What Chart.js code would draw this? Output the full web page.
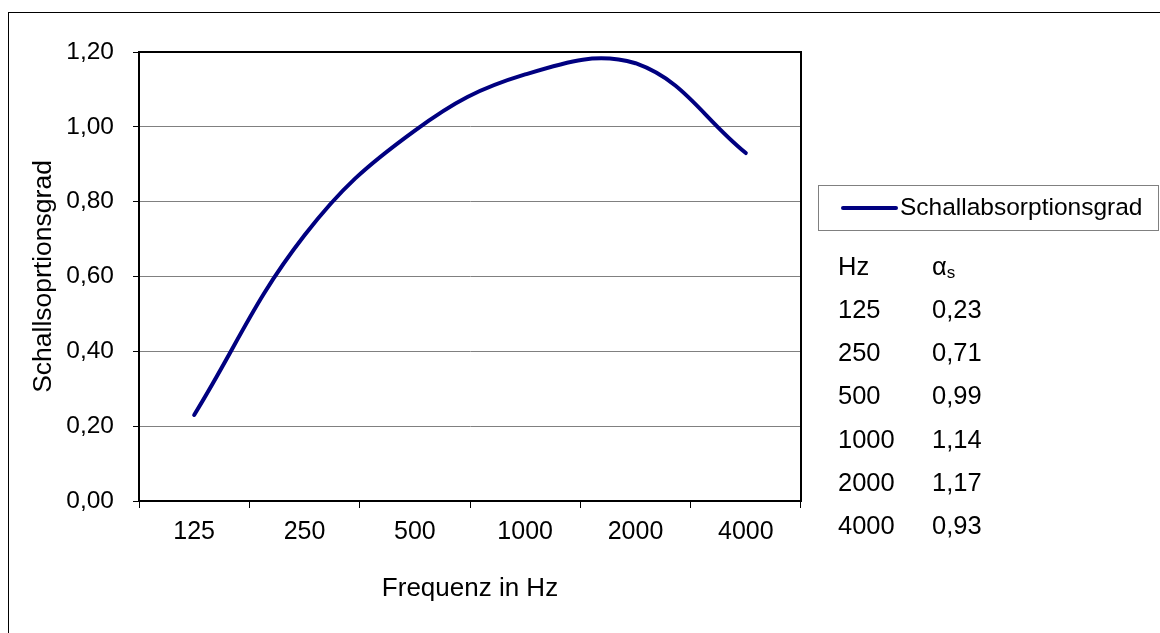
<!DOCTYPE html>
<html>
<head>
<meta charset="utf-8">
<script src="https://cdn.jsdelivr.net/npm/chart.js@4/dist/chart.umd.min.js"></script>
<style>
  html, body { margin: 0; padding: 0; background: #fff; }
  #wrap { position: relative; width: 1160px; height: 633px; }
</style>
</head>
<body>
<div id="wrap"><canvas id="c" width="1160" height="633"></canvas></div>
<script>
// ---- data ----
const categories = ['125', '250', '500', '1000', '2000', '4000'];
const absorption = [0.23, 0.71, 0.99, 1.14, 1.17, 0.93];
const seriesName = 'Schallabsorptionsgrad';
const yTitle = 'Schallsoprtionsgrad';
const xTitle = 'Frequenz in Hz';
const tableHeader = ['Hz', 'α', 's'];

const FONT = '"Liberation Sans", Arial, sans-serif';
const fmt = v => Number(v).toFixed(2).replace('.', ',');

const decorPlugin = {
  id: 'decor',
  beforeDraw(chart) {
    const ctx = chart.ctx;
    ctx.save();
    ctx.fillStyle = '#fff';
    ctx.fillRect(0, 0, chart.width, chart.height);
    ctx.strokeStyle = '#000';
    ctx.lineWidth = 1;
    ctx.strokeRect(8.5, 12.5, 1300, 800);
    ctx.restore();
  },
  afterDraw(chart) {
    const ctx = chart.ctx;
    const a = chart.chartArea;
    ctx.save();
    // plot frame top/right
    ctx.strokeStyle = '#000';
    ctx.lineWidth = 2;
    ctx.beginPath();
    ctx.moveTo(a.left, a.top);
    ctx.lineTo(a.right, a.top);
    ctx.lineTo(a.right, a.bottom);
    ctx.stroke();

    // legend box
    ctx.fillStyle = '#fff';
    ctx.fillRect(818.5, 185.5, 340, 45);
    ctx.strokeStyle = '#808080';
    ctx.lineWidth = 1;
    ctx.strokeRect(818.5, 185.5, 340, 45);
    ctx.strokeStyle = '#000080';
    ctx.lineWidth = 4;
    ctx.lineCap = 'round';
    ctx.beginPath();
    ctx.moveTo(843, 208);
    ctx.lineTo(896, 208);
    ctx.stroke();
    ctx.fillStyle = '#000';
    ctx.font = '24.5px ' + FONT;
    ctx.textBaseline = 'middle';
    ctx.textAlign = 'left';
    ctx.fillText(seriesName, 900, 208);

    // value table
    ctx.font = '25.5px ' + FONT;
    ctx.fillText(tableHeader[0], 838, 268);
    ctx.fillText(tableHeader[1], 932, 268);
    const aw = ctx.measureText(tableHeader[1]).width;
    ctx.font = '17px ' + FONT;
    ctx.fillText(tableHeader[2], 932 + aw, 273);
    ctx.font = '25.5px ' + FONT;
    for (let i = 0; i < categories.length; i++) {
      const y = 311 + i * 43.2;
      ctx.fillText(categories[i], 838, y);
      ctx.fillText(fmt(absorption[i]), 932, y);
    }
    ctx.restore();
  }
};

new Chart(document.getElementById('c'), {
  type: 'line',
  data: {
    labels: categories,
    datasets: [{
      label: seriesName,
      data: absorption,
      borderColor: '#000080',
      backgroundColor: '#000080',
      borderWidth: 4,
      borderCapStyle: 'round',
      pointRadius: 0,
      pointHoverRadius: 0,
      tension: 0.4,
      fill: false
    }]
  },
  options: {
    responsive: false,
    animation: false,
    devicePixelRatio: 1,
    layout: { padding: { left: 0, top: 52, right: 359, bottom: 0 } },
    plugins: {
      legend: { display: false },
      tooltip: { enabled: false }
    },
    scales: {
      x: {
        type: 'category',
        offset: true,
        afterFit(s) { s.height = 132; },
        grid: {
          offset: true,
          drawOnChartArea: false,
          drawTicks: true,
          tickLength: 7,
          tickColor: '#000',
          tickWidth: 1
        },
        border: { color: '#000', width: 2 },
        ticks: {
          color: '#000',
          font: { family: FONT, size: 25 },
          padding: 9,
          maxRotation: 0,
          autoSkip: false
        },
        title: {
          display: true,
          text: xTitle,
          color: '#000',
          font: { family: FONT, size: 26 },
          padding: { top: 0, bottom: 29 }
        }
      },
      y: {
        min: 0,
        max: 1.2,
        afterFit(s) { s.width = 139; },
        grid: {
          color: '#808080',
          lineWidth: 1,
          tickLength: 6,
          tickColor: '#000',
          tickWidth: 1
        },
        border: { color: '#000', width: 2 },
        ticks: {
          stepSize: 0.2,
          color: '#000',
          font: { family: FONT, size: 24.5 },
          padding: 19,
          callback: v => fmt(v)
        },
        title: {
          display: true,
          text: yTitle,
          color: '#000',
          font: { family: FONT, size: 26.5 },
          padding: { top: 28, bottom: 0 }
        }
      }
    }
  },
  plugins: [decorPlugin]
});
</script>
</body>
</html>
